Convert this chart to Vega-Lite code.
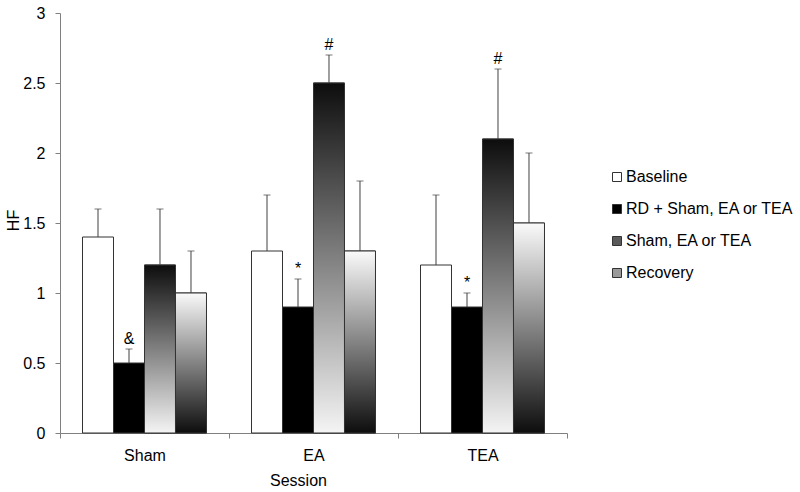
{
  "$schema": "https://vega.github.io/schema/vega-lite/v6.json",
  "width": 507,
  "height": 420,
  "autosize": {"type": "none"},
  "padding": {"left": 60, "top": 13, "right": 233, "bottom": 59},
  "background": "white",
  "config": {
    "view": {"stroke": null},
    "font": "Liberation Sans",
    "axis": {"grid": false, "domainColor": "#808080", "tickColor": "#808080", "labelColor": "#000000", "titleColor": "#000000", "labelFontSize": 16, "titleFontSize": 16, "titleFontWeight": "normal", "labelFont": "Liberation Sans", "titleFont": "Liberation Sans"},
    "legend": {"labelFont": "Liberation Sans"}
  },
  "data": {
    "values": [
      {"session": "Sham", "series": "Baseline", "value": 1.4, "upper": 1.6, "note": ""},
      {"session": "Sham", "series": "RD + Sham, EA or TEA", "value": 0.5, "upper": 0.6, "note": "&"},
      {"session": "Sham", "series": "Sham, EA or TEA", "value": 1.2, "upper": 1.6, "note": ""},
      {"session": "Sham", "series": "Recovery", "value": 1.0, "upper": 1.3, "note": ""},
      {"session": "EA", "series": "Baseline", "value": 1.3, "upper": 1.7, "note": ""},
      {"session": "EA", "series": "RD + Sham, EA or TEA", "value": 0.9, "upper": 1.1, "note": "*"},
      {"session": "EA", "series": "Sham, EA or TEA", "value": 2.5, "upper": 2.7, "note": "#"},
      {"session": "EA", "series": "Recovery", "value": 1.3, "upper": 1.8, "note": ""},
      {"session": "TEA", "series": "Baseline", "value": 1.2, "upper": 1.7, "note": ""},
      {"session": "TEA", "series": "RD + Sham, EA or TEA", "value": 0.9, "upper": 1.0, "note": "*"},
      {"session": "TEA", "series": "Sham, EA or TEA", "value": 2.1, "upper": 2.6, "note": "#"},
      {"session": "TEA", "series": "Recovery", "value": 1.5, "upper": 2.0, "note": ""}
    ]
  },
  "encoding": {
    "x": {
      "field": "session", "type": "nominal", "sort": ["Sham", "EA", "TEA"],
      "scale": {"paddingInner": 0, "paddingOuter": 0},
      "axis": {"title": "Session", "labelAngle": 0, "tickBand": "extent", "tickSize": 5, "labelPadding": 9, "titleX": 238, "titleY": 39, "titleBaseline": "top"}
    },
    "xOffset": {
      "field": "series", "type": "nominal",
      "scale": {"domain": ["Baseline", "RD + Sham, EA or TEA", "Sham, EA or TEA", "Recovery"], "paddingInner": 0, "paddingOuter": 0.726}
    },
    "y": {
      "field": "value", "type": "quantitative",
      "scale": {"domain": [0, 3], "nice": false},
      "axis": {"title": "HF", "values": [0, 0.5, 1, 1.5, 2, 2.5, 3], "format": "~g", "tickSize": 5, "labelPadding": 10, "titleX": -42, "titleY": 207, "titleBaseline": "alphabetic", "titleAngle": -90}
    }
  },
  "layer": [
    {
      "mark": {"type": "bar", "stroke": "#333333", "strokeWidth": 1},
      "encoding": {
        "fill": {
          "field": "series", "type": "nominal",
          "scale": {
            "domain": ["Baseline", "RD + Sham, EA or TEA", "Sham, EA or TEA", "Recovery"],
            "range": ["#ffffff", "#000000", "#5a5a5a", "#9a9a9a"]
          },
          "legend": {
            "title": null, "orient": "none", "legendX": 549, "legendY": 156,
            "symbolType": "square", "symbolSize": 81, "symbolStrokeColor": "#333333", "symbolStrokeWidth": 1, "symbolOpacity": 1,
            "labelFontSize": 16, "labelColor": "#000000", "labelOffset": 1, "rowPadding": 16, "labelLimit": 300,
            "encode": {
              "symbols": {
                "update": {
                  "stroke": {"value": "#333333"},
                  "strokeWidth": {"value": 1},
                  "fill": [
                    {"test": "datum.value === 'Sham, EA or TEA'", "value": {"gradient": "linear", "x1": 0, "y1": 0, "x2": 0, "y2": 1, "stops": [{"offset": 0, "color": "#1a1a1a"}, {"offset": 0.5, "color": "#c8c8c8"}, {"offset": 1, "color": "#333333"}]}},
                    {"test": "datum.value === 'Recovery'", "value": {"gradient": "linear", "x1": 0, "y1": 0, "x2": 0, "y2": 1, "stops": [{"offset": 0, "color": "#555555"}, {"offset": 0.5, "color": "#e0e0e0"}, {"offset": 1, "color": "#333333"}]}},
                    {"scale": "fill", "field": "value"}
                  ]
                }
              }
            }
          }
        }
      }
    },
    {
      "transform": [{"filter": "datum.series === 'Sham, EA or TEA'"}],
      "mark": {"type": "bar", "stroke": "#333333", "strokeWidth": 1,
        "fill": {"gradient": "linear", "x1": 0, "y1": 0, "x2": 0, "y2": 1, "stops": [{"offset": 0, "color": "#0d0d0d"}, {"offset": 1, "color": "#f4f4f4"}]}}
    },
    {
      "transform": [{"filter": "datum.series === 'Recovery'"}],
      "mark": {"type": "bar", "stroke": "#333333", "strokeWidth": 1,
        "fill": {"gradient": "linear", "x1": 0, "y1": 0, "x2": 0, "y2": 1, "stops": [{"offset": 0, "color": "#fafafa"}, {"offset": 1, "color": "#0d0d0d"}]}}
    },
    {
      "mark": {"type": "rule", "color": "#404040", "strokeWidth": 1},
      "encoding": {
        "y2": {"field": "upper"}
      }
    },
    {
      "mark": {"type": "tick", "color": "#404040", "thickness": 1, "size": 7},
      "encoding": {
        "y": {"field": "upper", "type": "quantitative"}
      }
    },
    {
      "mark": {"type": "text", "baseline": "alphabetic", "dy": -5, "fontSize": 16, "color": "#000000", "font": "Liberation Sans"},
      "encoding": {
        "y": {"field": "upper", "type": "quantitative"},
        "text": {"field": "note"}
      }
    }
  ]
}
